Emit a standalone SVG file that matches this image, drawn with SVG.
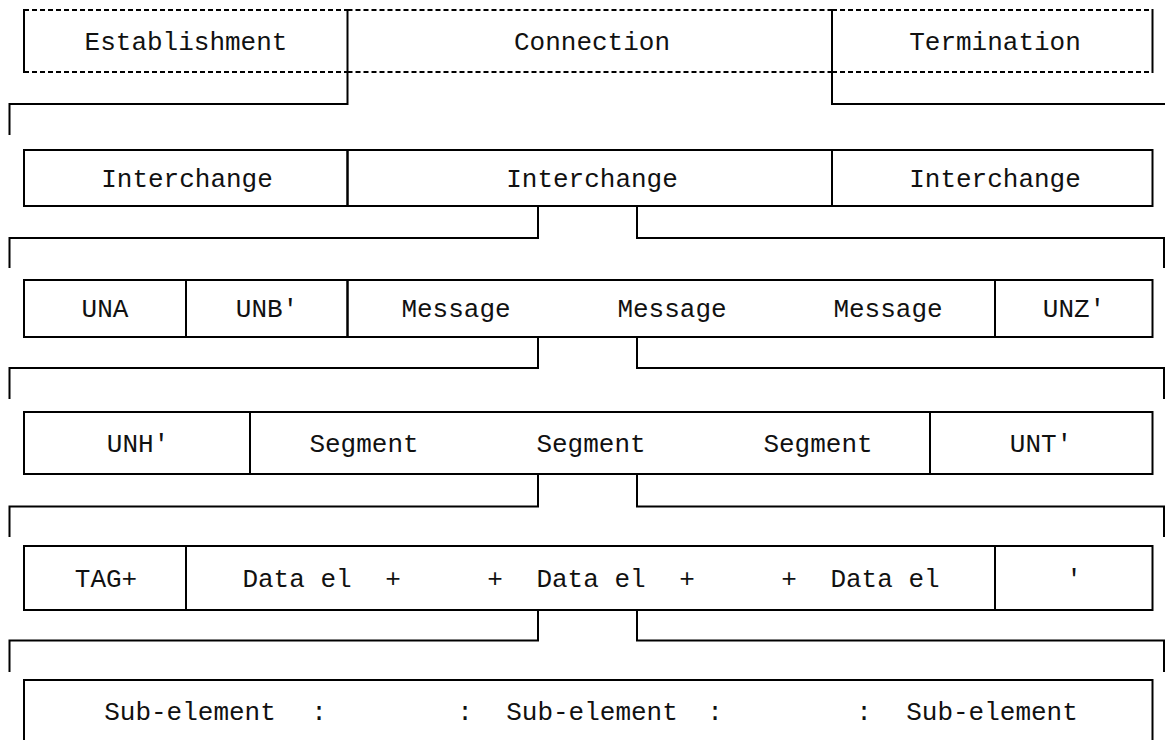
<svg xmlns="http://www.w3.org/2000/svg" width="1165" height="740" viewBox="0 0 1165 740">
  <style>
    .cell { fill: none; stroke: #000; stroke-width: 2; }
    .side { stroke: #000; stroke-width: 2; }
    .dash { stroke: #000; stroke-width: 2; stroke-dasharray: 5 3; }
    .wire { fill: none; stroke: #000; stroke-width: 2; }
    text { font-family: "Liberation Mono", "DejaVu Sans Mono", monospace; font-size: 26px; fill: #111; text-anchor: middle; }
  </style>
  <rect width="1165" height="740" fill="#fff"/>

  <!-- Level 1: connection phases (dashed top and bottom) -->
  <g id="establishment">
    <line class="dash" x1="24" y1="10" x2="347.5" y2="10"/>
    <line class="dash" x1="24" y1="72" x2="347.5" y2="72"/>
    <line class="side" x1="24" y1="9" x2="24" y2="73"/>
    <text x="186" y="50">Establishment</text>
  </g>
  <g id="connection">
    <line class="dash" x1="347.5" y1="10" x2="832" y2="10"/>
    <line class="dash" x1="347.5" y1="72" x2="832" y2="72"/>
    <line class="side" x1="347.5" y1="9" x2="347.5" y2="73"/>
    <line class="side" x1="832" y1="9" x2="832" y2="73"/>
    <text x="592" y="50">Connection</text>
  </g>
  <g id="termination">
    <line class="dash" x1="832" y1="10" x2="1152.5" y2="10"/>
    <line class="dash" x1="832" y1="72" x2="1152.5" y2="72"/>
    <line class="side" x1="1152.5" y1="9" x2="1152.5" y2="73"/>
    <text x="995" y="50">Termination</text>
  </g>

  <!-- Level 2: interchanges -->
  <g id="interchange-1">
    <rect class="cell" x="24" y="150" width="323.5" height="56"/>
    <text x="187" y="187">Interchange</text>
  </g>
  <g id="interchange-2">
    <rect class="cell" x="347.5" y="150" width="484.5" height="56"/>
    <text x="592" y="187">Interchange</text>
  </g>
  <g id="interchange-3">
    <rect class="cell" x="832" y="150" width="320.5" height="56"/>
    <text x="995" y="187">Interchange</text>
  </g>

  <!-- Level 3: interchange contents -->
  <g id="una">
    <rect class="cell" x="24" y="280" width="162" height="57"/>
    <text x="105" y="317">UNA</text>
  </g>
  <g id="unb">
    <rect class="cell" x="186" y="280" width="161.5" height="57"/>
    <text x="267" y="317">UNB'</text>
  </g>
  <g id="messages">
    <rect class="cell" x="347.5" y="280" width="647.5" height="57"/>
    <text x="456" y="317">Message</text>
    <text x="672" y="317">Message</text>
    <text x="888" y="317">Message</text>
  </g>
  <g id="unz">
    <rect class="cell" x="995" y="280" width="157.5" height="57"/>
    <text x="1074" y="317">UNZ'</text>
  </g>

  <!-- Level 4: message contents -->
  <g id="unh">
    <rect class="cell" x="24" y="412" width="226" height="62"/>
    <text x="138" y="451.5">UNH'</text>
  </g>
  <g id="segments">
    <rect class="cell" x="250" y="412" width="680" height="62"/>
    <text x="364" y="451.5">Segment</text>
    <text x="591" y="451.5">Segment</text>
    <text x="818" y="451.5">Segment</text>
  </g>
  <g id="unt">
    <rect class="cell" x="930" y="412" width="222.5" height="62"/>
    <text x="1041" y="451.5">UNT'</text>
  </g>

  <!-- Level 5: segment contents -->
  <g id="tag">
    <rect class="cell" x="24" y="546" width="162" height="64"/>
    <text x="106" y="587">TAG+</text>
  </g>
  <g id="data-elements">
    <rect class="cell" x="186" y="546" width="809" height="64"/>
    <text x="297" y="587">Data el</text>
    <text x="393" y="587">+</text>
    <text x="495" y="587">+</text>
    <text x="591" y="587">Data el</text>
    <text x="687" y="587">+</text>
    <text x="789" y="587">+</text>
    <text x="885" y="587">Data el</text>
  </g>
  <g id="terminator">
    <rect class="cell" x="995" y="546" width="157.5" height="64"/>
    <text x="1074" y="587">'</text>
  </g>

  <!-- Level 6: data element contents -->
  <g id="sub-elements">
    <rect class="cell" x="24" y="680" width="1128.5" height="80"/>
    <text x="190" y="719.5">Sub-element</text>
    <text x="319" y="719.5">:</text>
    <text x="465" y="719.5">:</text>
    <text x="592" y="719.5">Sub-element</text>
    <text x="715" y="719.5">:</text>
    <text x="864" y="719.5">:</text>
    <text x="992" y="719.5">Sub-element</text>
  </g>

  <!-- Expansion brackets between levels -->
  <g id="connectors">
    <path class="wire" d="M9.5,135 V104 H347.5 V72"/>
    <path class="wire" d="M832,72 V104 H1166"/>

    <path class="wire" d="M9.5,268 V238 H538 V206"/>
    <path class="wire" d="M637,206 V238 H1164 V268"/>

    <path class="wire" d="M9.5,399 V368 H538 V337"/>
    <path class="wire" d="M637,337 V368 H1164 V399"/>

    <path class="wire" d="M9.5,537 V506.5 H538 V474"/>
    <path class="wire" d="M637,474 V506.5 H1164 V537"/>

    <path class="wire" d="M9.5,672 V640.5 H538 V610"/>
    <path class="wire" d="M637,610 V640.5 H1164 V672"/>
  </g>
</svg>
